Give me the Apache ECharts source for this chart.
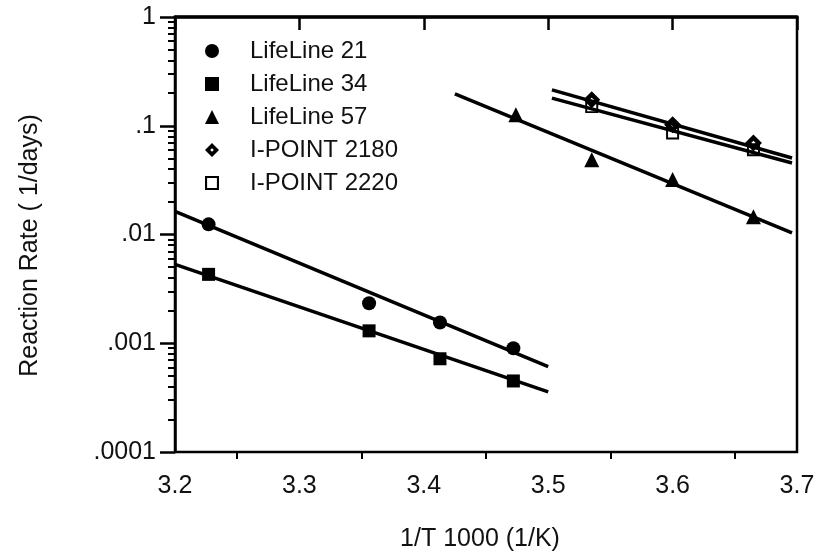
<!DOCTYPE html>
<html>
<head>
<meta charset="utf-8">
<script src="https://cdn.jsdelivr.net/npm/echarts@6/dist/echarts.min.js"></script>
<style>html,body{margin:0;padding:0;background:#fff}#c{width:822px;height:557px}</style>
</head>
<body>
<div id="c"></div>
<script>
// ---- data ----
const seriesNames = ['LifeLine 21', 'LifeLine 34', 'LifeLine 57', 'I-POINT 2180', 'I-POINT 2220'];
const xLifeLine = [3.227, 3.356, 3.413, 3.472];
const lifeLine21 = [0.0124, 0.00233, 0.00155, 0.0009];
const lifeLine34 = [0.0043, 0.0013, 0.00072, 0.00045];
const xLifeLine57 = [3.474, 3.535, 3.600, 3.665];
const lifeLine57 = [0.126, 0.0488, 0.032, 0.0146];
const xIPoint = [3.535, 3.600, 3.665];
const iPoint2180 = [0.173, 0.102, 0.0694];
const iPoint2220 = [0.150, 0.0857, 0.0603];
// fitted line end points
const fitX21 = [3.2, 3.5];      const fitY21 = [0.0163, 0.00061];
const fitX34 = [3.2, 3.5];      const fitY34 = [0.00532, 0.000357];
const fitX57 = [3.425, 3.696];  const fitY57 = [0.1966, 0.01037];
const fitX2180 = [3.503, 3.696]; const fitY2180 = [0.214, 0.0505];
const fitX2220 = [3.503, 3.696]; const fitY2220 = [0.1795, 0.0455];
// axis ticks
const xTickLabels = ['3.2', '3.3', '3.4', '3.5', '3.6', '3.7'];
const xMinorTicks = [3.25, 3.35, 3.45, 3.55, 3.65];
const yTickLabels = ['.0001', '.001', '.01', '.1', '1'];

const pairs = (xs, ys) => xs.map((x, i) => [x, ys[i]]);
const FONT = 'Liberation Sans, Arial, sans-serif';
const minorLog = [];
for (let d = -4; d < 0; d++) for (let m = 2; m <= 9; m++) minorLog.push(d + Math.log10(m));

const DOT_DIAMOND = 'path://M0,-10L10,0L0,10L-10,0ZM0,-2.6L-2.6,0L0,2.6L2.6,0Z';
const OPEN_SQUARE = 'path://M-10,-10L10,-10L10,10L-10,10ZM-7,-7L-7,7L7,7L7,-7Z';

const chart = echarts.init(document.getElementById('c'), null, {renderer: 'canvas'});
const fitLine = (xs, ys) => ({
  type: 'line', data: pairs(xs, ys), symbol: 'none', silent: true,
  lineStyle: {color: '#000', width: 3.5}, z: 2
});
const scat = (name, xs, ys, symbol, size) => ({
  name, type: 'scatter', data: pairs(xs, ys), symbol, symbolSize: size,
  itemStyle: {color: '#000', opacity: 1}, z: 5
});
chart.setOption({
  animation: false,
  backgroundColor: '#fff',
  textStyle: {fontFamily: FONT, color: '#111'},
  grid: {left: 175, right: 25, top: 17, bottom: 104, show: true, borderColor: '#000', borderWidth: 2.5, backgroundColor: 'transparent'},
  legend: {
    orient: 'vertical', left: 200, top: 34, itemWidth: 14, itemHeight: 14, itemGap: 9,
    data: seriesNames,
    textStyle: {fontFamily: FONT, fontSize: 24, color: '#111', padding: [0, 0, 0, 26]}
  },
  xAxis: [{
    type: 'value', min: 3.2, max: 3.7, interval: 0.1,
    name: '1/T 1000 (1/K)', nameLocation: 'middle', nameGap: 75,
    nameTextStyle: {fontFamily: FONT, fontSize: 25, color: '#111', padding: [0, 12, 0, 0]},
    axisLine: {lineStyle: {color: '#000', width: 3.5}},
    axisTick: {show: true, length: 13, lineStyle: {color: '#000', width: 2.5}},
    splitLine: {show: false},
    axisLabel: {fontFamily: FONT, fontSize: 25, color: '#111', margin: 22,
      formatter: v => xTickLabels[Math.round((v - 3.2) * 10)]}
  }, {
    type: 'value', min: 3.2, max: 3.7, position: 'bottom',
    axisLine: {show: false}, axisLabel: {show: false}, splitLine: {show: false},
    axisTick: {show: true, length: 7, customValues: xMinorTicks, lineStyle: {color: '#000', width: 2}}
  }],
  yAxis: [{
    type: 'log', logBase: 10, min: 0.0001, max: 1,
    name: 'Reaction Rate ( 1/days)', nameLocation: 'middle', nameGap: 132,
    nameTextStyle: {fontFamily: FONT, fontSize: 25, color: '#111', padding: [0, 22, 0, 0]},
    axisLine: {lineStyle: {color: '#000', width: 2.5}},
    axisTick: {show: true, length: 15, lineStyle: {color: '#000', width: 2.5}},
    splitLine: {show: false},
    axisLabel: {fontFamily: FONT, fontSize: 25, color: '#111', margin: 19,
      formatter: v => yTickLabels[Math.round(Math.log10(v)) + 4]}
  }, {
    type: 'value', min: -4, max: 0, position: 'left',
    axisLine: {show: false}, axisLabel: {show: false}, splitLine: {show: false},
    axisTick: {show: true, length: 7, customValues: minorLog, lineStyle: {color: '#000', width: 2}}
  }],
  series: [
    fitLine(fitX21, fitY21),
    fitLine(fitX34, fitY34),
    fitLine(fitX57, fitY57),
    fitLine(fitX2180, fitY2180),
    fitLine(fitX2220, fitY2220),
    scat(seriesNames[0], xLifeLine, lifeLine21, 'circle', 14),
    scat(seriesNames[1], xLifeLine, lifeLine34, 'rect', 13),
    scat(seriesNames[2], xLifeLine57, lifeLine57, 'triangle', 15),
    scat(seriesNames[3], xIPoint, iPoint2180, DOT_DIAMOND, 17),
    scat(seriesNames[4], xIPoint, iPoint2220, OPEN_SQUARE, 13)
  ]
});
</script>
</body>
</html>
